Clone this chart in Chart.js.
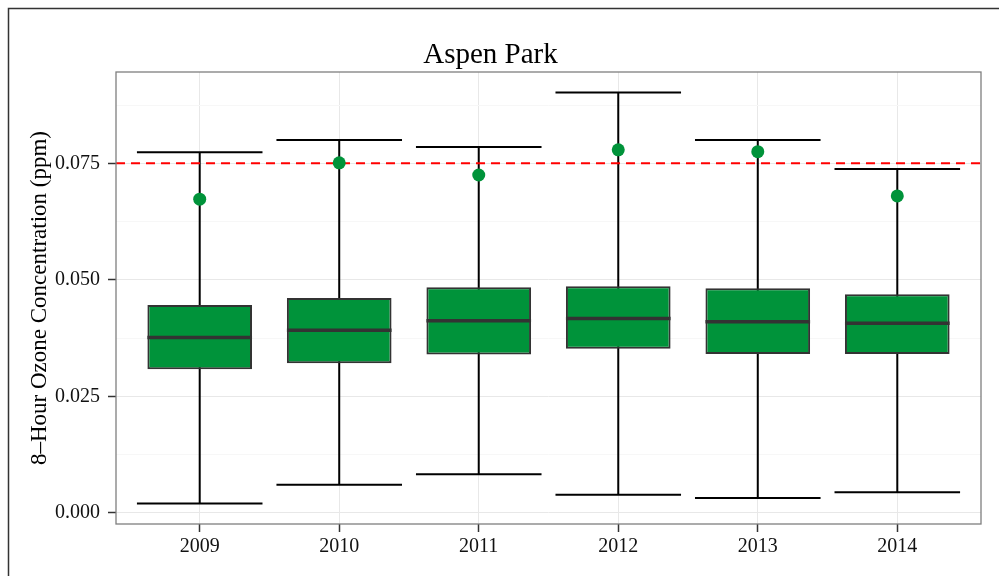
<!DOCTYPE html>
<html>
<head>
<meta charset="utf-8">
<script src="https://cdn.jsdelivr.net/npm/chart.js@4.4.1/dist/chart.umd.min.js"></script>
<style>
  html, body { margin: 0; padding: 0; background: #fff; }
  #wrap { width: 999px; height: 576px; }
</style>
</head>
<body>
<div id="wrap"><canvas id="ozoneChart" width="999" height="576"></canvas></div>
<script>
// ---- dados ----
const years = ['2009', '2010', '2011', '2012', '2013', '2014'];
const whiskerLow  = [0.0020, 0.0060, 0.0083, 0.0039, 0.0032, 0.0044];
const q1          = [0.0308, 0.0321, 0.0340, 0.0352, 0.0341, 0.0341];
const median      = [0.0376, 0.0392, 0.0412, 0.0417, 0.0410, 0.0407];
const q3          = [0.0446, 0.0461, 0.0484, 0.0486, 0.0482, 0.0469];
const whiskerHigh = [0.0774, 0.0800, 0.0785, 0.0902, 0.0800, 0.0738];
const fourthMax   = [0.0673, 0.0751, 0.0725, 0.0779, 0.0775, 0.0680];
const standard = 0.075;                       // linha do padrão (ppm)
const majorTicks = [0, 0.025, 0.05, 0.075];
const minorTicks = [0.0125, 0.0375, 0.0625, 0.0875];

const GREEN = '#00933a';
const SERIF = '"Liberation Serif", "DejaVu Serif", serif';

// caixa de fundo e moldura externa
const framePlugin = {
    id: 'frame',
    beforeDraw(chart) {
        const c = chart.ctx;
        c.save();
        c.fillStyle = '#fff';
        c.fillRect(0, 0, chart.width, chart.height);
        c.strokeStyle = '#333';
        c.lineWidth = 1.5;
        c.strokeRect(8.5, 8.5, 1200, 800);
        c.restore();
    },
    afterDraw(chart) {
        // borda do painel por cima de tudo
        const a = chart.chartArea;
        const c = chart.ctx;
        c.save();
        c.strokeStyle = '#7f7f7f';
        c.lineWidth = 1.3;
        c.strokeRect(a.left, a.top, a.right - a.left, a.bottom - a.top);
        c.restore();
    }
};

// bigodes (errorbar) desenhados antes das caixas, medianas e linha padrão depois
const boxPlugin = {
    id: 'boxExtras',
    beforeDatasetsDraw(chart) {
        const x = chart.scales.x, y = chart.scales.y, c = chart.ctx;
        const half = (x.getPixelForValue(1) - x.getPixelForValue(0)) * 0.45;
        c.save();
        c.strokeStyle = '#000';
        c.lineWidth = 2;
        years.forEach((yr, i) => {
            const px = x.getPixelForValue(i);
            const lo = y.getPixelForValue(whiskerLow[i]);
            const hi = y.getPixelForValue(whiskerHigh[i]);
            c.beginPath();
            c.moveTo(px, lo); c.lineTo(px, hi);
            c.moveTo(px - half, lo); c.lineTo(px + half, lo);
            c.moveTo(px - half, hi); c.lineTo(px + half, hi);
            c.stroke();
        });
        c.restore();
    },
    afterDatasetDraw(chart, args) {
        if (args.index !== 0) return;
        const y = chart.scales.y, c = chart.ctx;
        const meta = chart.getDatasetMeta(0);
        c.save();
        c.strokeStyle = '#333';
        c.lineWidth = 3.5;
        meta.data.forEach((bar, i) => {
            const py = y.getPixelForValue(median[i]);
            c.beginPath();
            c.moveTo(bar.x - bar.width / 2, py);
            c.lineTo(bar.x + bar.width / 2, py);
            c.stroke();
        });
        const a = chart.chartArea;
        const py = y.getPixelForValue(standard);
        c.strokeStyle = '#ff0000';
        c.lineWidth = 2;
        c.setLineDash([9, 6]);
        c.beginPath();
        c.moveTo(a.left, py);
        c.lineTo(a.right, py);
        c.stroke();
        c.restore();
    }
};

const isMinor = v => minorTicks.some(m => Math.abs(m - v) < 1e-9);

new Chart(document.getElementById('ozoneChart'), {
    type: 'bar',
    data: {
        datasets: [
            {
                type: 'bar',
                order: 1,
                data: years.map((yr, i) => ({ x: i, y: [q1[i], q3[i]] })),
                backgroundColor: GREEN,
                borderColor: '#333333',
                borderWidth: 2,
                borderSkipped: false,
                categoryPercentage: 1,
                barPercentage: 0.75
            },
            {
                type: 'line',
                order: 0,
                data: years.map((yr, i) => ({ x: i, y: fourthMax[i] })),
                showLine: false,
                pointRadius: 6.5,
                pointBackgroundColor: GREEN,
                pointBorderWidth: 0
            }
        ]
    },
    options: {
        responsive: false,
        animation: false,
        layout: { padding: { left: 0, right: 18, top: 0, bottom: 0 } },
        plugins: {
            legend: { display: false },
            tooltip: { enabled: false },
            title: {
                display: true,
                text: 'Aspen Park',
                color: '#000',
                font: { family: SERIF, size: 29, weight: 'normal', lineHeight: 1 },
                padding: { top: 41, bottom: 2 }
            }
        },
        scales: {
            x: {
                type: 'linear',
                offset: false,
                min: -0.6,
                max: 5.6,
                afterBuildTicks: s => { s.ticks = years.map((yr, i) => ({ value: i })); },
                afterFit: s => { s.height = 52; },
                ticks: {
                    autoSkip: false,
                    callback: v => years[v],
                    color: '#111',
                    padding: 3,
                    font: { family: SERIF, size: 20 }
                },
                grid: { offset: false, color: '#e8e8e8', lineWidth: 1, tickLength: 8, tickColor: '#333', tickWidth: 1.5 },
                border: { display: false }
            },
            y: {
                min: -0.0024,
                max: 0.0946,
                afterBuildTicks: s => {
                    s.ticks = majorTicks.concat(minorTicks).sort((a, b) => a - b).map(v => ({ value: v }));
                },
                afterFit: s => { s.width = 116; },
                ticks: {
                    autoSkip: false,
                    callback: v => isMinor(v) ? '' : v.toFixed(3),
                    color: '#111',
                    padding: 8,
                    font: { family: SERIF, size: 20 }
                },
                grid: {
                    color: ctx => isMinor(ctx.tick.value) ? '#f7f7f7' : '#e8e8e8',
                    lineWidth: 1,
                    tickLength: 8,
                    tickColor: ctx => isMinor(ctx.tick.value) ? 'rgba(0,0,0,0)' : '#333',
                    tickWidth: 1.5
                },
                border: { display: false },
                title: {
                    display: true,
                    text: '8\u2013Hour Ozone Concentration (ppm)',
                    color: '#000',
                    font: { family: SERIF, size: 23 },
                    padding: { top: 26, bottom: 0 }
                }
            }
        }
    },
    plugins: [framePlugin, boxPlugin]
});
</script>
</body>
</html>
